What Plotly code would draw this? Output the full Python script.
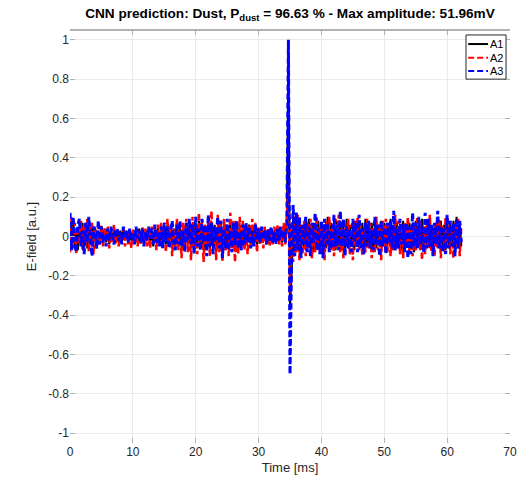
import numpy as np
import plotly.graph_objects as go

# Sample spacing of the recorded antenna signals [ms]
dt_ms = 0.25

# Antenna A1 (black, solid)
a1 = [
    .06, -.05, .08, -.06, .04, -.07, .05, -.03, .07, -.05,
    .04, -.06, .03, -.04, .06, -.03, .04, -.05, .02, -.03,
    .03, -.02, .04, -.03, .02, -.04, .03, -.02, .04, -.03,
    .02, -.03, .03, -.02, .04, -.02, .03, -.03, .02, -.02,
    .03, -.02, .02, -.03, .04, -.03, .02, -.04, .03, -.02,
    .04, -.03, .03, -.05, .04, -.02, .05, -.04, .03, -.04,
    .05, -.04, .06, -.03, .05, -.06, .04, -.05, .06, -.03,
    .05, -.06, .04, -.05, .07, -.04, .06, -.06, .05, -.04,
    .06, -.05, .08, -.04, .06, -.07, .05, -.05, .07, -.06,
    .07, -.05, .06, -.08, .05, -.06, .08, -.05, .06, -.07,
    .05, -.06, .07, -.04, .06, -.07, .04, -.05, .06, -.05,
    .04, -.05, .05, -.03, .06, -.04, .05, -.03, .04, -.05,
    .03, -.03, .04, -.02, .03, -.04, .03, -.02, .04, -.03,
    .03, -.02, .04, -.03, .02, -.03, .05, -.02, .07, .93,
    -.36, -.20, .10, -.08, .12, -.06, .09, -.07, .05, -.06,
    .07, -.06, .09, -.05, .06, -.08, .05, -.04, .08, -.06,
    .06, -.07, .05, -.06, .10, -.04, .07, -.06, .05, -.07,
    .08, -.05, .06, -.07, .05, -.06, .09, -.04, .06, -.05,
    .05, -.07, .08, -.05, .06, -.04, .07, -.06, .09, -.05,
    .06, -.05, .07, -.08, .05, -.06, .06, -.05, .08, -.04,
    .07, -.06, .05, -.04, .09, -.07, .06, -.05, .07, -.06,
    .05, -.07, .08, -.05, .06, -.04, .07, -.06, .05, -.08,
    .08, -.05, .06, -.07, .09, -.06, .05, -.04, .08, -.06,
    .06, -.07, .05, -.05, .07, -.06, .08, -.05, .06, -.07,
    .09, -.06, .07, -.05, .08, -.07, .10, -.06, .07, -.05,
]

# Antenna A2 (red, dashed)
a2 = [
    -.08, .10, -.06, .07, -.09, .05, -.04, .08, -.07, .06,
    -.05, .09, -.08, .04, .07, -.09, .05, -.06, .03, -.04,
    .06, -.05, .04, -.02, .05, -.06, .03, -.03, .06, -.04,
    .03, -.05, .02, -.03, .04, -.05, .02, -.04, .03, -.06,
    .04, -.02, .03, -.05, .02, -.04, .05, -.03, .04, -.05,
    .03, -.06, .05, -.02, .04, -.07, .06, -.03, .07, -.04,
    .05, -.08, .09, -.05, .06, -.10, .04, -.06, .09, -.07,
    .06, -.11, .07, -.04, .09, -.08, .05, -.12, .10, -.06,
    .07, -.09, .12, -.05, .08, -.13, .06, -.07, .09, -.10,
    .13, -.06, .05, -.12, .11, -.08, .07, -.13, .09, -.07,
    .06, -.10, .12, -.06, .08, -.13, .05, -.09, .10, -.06,
    .08, -.07, .05, -.09, .06, -.05, .09, -.04, .07, -.08,
    .05, -.04, .03, -.06, .05, -.03, .04, -.05, .03, -.04,
    .05, -.03, .06, -.04, .03, -.05, .07, -.04, .10, .26,
    -.29, .05, -.13, .10, -.08, .11, -.12, .06, -.09, .08,
    -.10, .07, -.06, .09, -.11, .05, -.08, .10, -.07, .04,
    -.09, .06, -.12, .08, -.05, .10, -.07, .05, -.10, .09,
    -.06, .11, -.08, .04, -.11, .07, -.05, .09, -.09, .06,
    -.12, .08, -.05, .10, -.07, .06, -.10, .04, -.08, .09,
    -.06, .07, -.11, .05, -.08, .10, -.07, .06, -.12, .08,
    -.05, .09, -.08, .06, -.10, .05, -.07, .11, -.06, .08,
    -.09, .06, -.11, .07, -.05, .10, -.08, .06, -.10, .07,
    -.07, .10, -.06, .08, -.12, .05, -.09, .07, -.06, .11,
    -.08, .05, -.10, .07, -.06, .09, -.11, .06, -.08, .10,
    -.06, .08, -.09, .05, -.11, .07, -.05, .09, -.10, .06,
]

# Antenna A3 (blue, dashed)
a3 = [
    .12, -.07, .10, -.04, -.08, .06, .09, -.05, .03, -.09,
    .07, -.03, .10, -.02, -.10, .05, .02, -.06, .08, -.04,
    .05, -.03, .01, -.05, .04, -.02, .05, .00, -.04, .03,
    .04, -.02, .02, -.04, .05, -.01, .03, -.03, .04, -.02,
    .02, -.04, .05, -.01, .03, -.03, .04, -.05, .02, -.02,
    .05, -.01, .04, -.04, .06, -.03, .02, -.05, .05, -.06,
    .07, -.03, .05, -.06, .02, .08, -.03, -.07, .06, -.04,
    .08, -.05, .03, -.08, .07, -.02, .09, -.04, .06, -.09,
    .10, -.05, .04, -.07, .09, -.03, .06, -.10, .11, -.05,
    .07, -.09, .05, -.02, .10, -.06, .08, -.11, .04, -.06,
    .09, -.07, .03, -.08, .07, -.04, .08, -.06, .02, -.07,
    .06, -.04, .07, -.03, .05, -.06, .02, -.05, .06, -.02,
    .04, -.03, .05, -.01, .03, -.04, .04, -.02, .05, -.03,
    .02, -.04, .04, -.02, .05, -.01, .03, -.03, .06, 1.00,
    -.70, -.12, .16, -.10, .12, -.07, .10, -.11, .06, -.04,
    .10, -.08, .05, -.10, .07, -.03, .12, -.07, .04, -.09,
    .08, -.11, .09, -.04, .06, -.08, .03, -.06, .11, -.05,
    .06, -.07, .13, -.05, .09, -.10, .05, -.06, .04, -.08,
    .09, -.03, .07, -.08, .11, -.06, .04, -.09, .07, -.05,
    .08, -.06, .03, -.07, .10, -.04, .06, -.10, .08, -.05,
    .05, -.09, .07, -.03, .08, -.06, .13, -.07, .04, -.06,
    .09, -.04, .06, -.08, .07, -.11, .05, -.09, .12, -.05,
    .07, -.06, .10, -.04, .06, -.08, .12, -.06, .09, -.05,
    .06, -.10, .07, -.04, .13, -.06, .05, -.08, .04, -.09,
    .11, -.06, .08, -.05, .07, -.10, .09, -.06, .08, -.03,
]

x_ticks = [0, 10, 20, 30, 40, 50, 60, 70]
y_ticks = [-1, -0.8, -0.6, -0.4, -0.2, 0, 0.2, 0.4, 0.6, 0.8, 1]
y_tick_text = ["-1", "-0.8", "-0.6", "-0.4", "-0.2", "0", "0.2", "0.4", "0.6", "0.8", "1"]

# name, samples, colour, dash pattern, stroke width
series = [
    ("A1", a1, "black", "solid", 2.0),
    ("A2", a2, "red", "6px,3px", 2.5),
    ("A3", a3, "blue", "6px,3px", 3.0),
]

FONT = "Liberation Sans, Arial, Helvetica, sans-serif"
TEXT = "#262626"

fig = go.Figure()
for name, vals, color, dash, width in series:
    t = np.arange(len(vals)) * dt_ms
    fig.add_trace(go.Scatter(
        x=t, y=vals, mode="lines", name=name, showlegend=False,
        line=dict(color=color, width=width, dash=dash),
    ))

axis_common = dict(
    showgrid=True, gridcolor="#ebebeb", gridwidth=1,
    zeroline=False, showline=False, automargin=False,
    ticks="inside", ticklen=5, tickcolor="#b3b3b3", tickwidth=1,
    mirror="ticks",
    tickfont=dict(family=FONT, size=12, color=TEXT),
)

# Boxed legend in the upper right corner of the axes
shapes = [
    dict(type="line", xref="paper", yref="paper",
         x0=0, x1=1, y0=1, y1=1,
         line=dict(color="#9a9a9a", width=1.5)),
    dict(type="rect", xref="paper", yref="paper",
         x0=0.900, x1=0.991, y0=0.881, y1=0.988,
         fillcolor="white", line=dict(color="#262626", width=1), layer="above"),
]
annotations = []
row_y = [0.966, 0.933, 0.901]
for (name, _, color, dash, _w), yy in zip(series, row_y):
    shapes.append(dict(
        type="line", xref="paper", yref="paper",
        x0=0.905, x1=0.950, y0=yy, y1=yy, layer="above",
        line=dict(color=color, width=2, dash=dash),
    ))
    annotations.append(dict(
        text=name, xref="paper", yref="paper", x=0.951, y=yy,
        xanchor="left", yanchor="middle", showarrow=False,
        font=dict(family=FONT, size=11, color="black"),
    ))

fig.update_layout(
    width=521, height=477,
    margin=dict(l=70, r=11, t=30, b=34),
    paper_bgcolor="white", plot_bgcolor="white",
    font=dict(family=FONT, color=TEXT),
    showlegend=False,
    title=dict(
        text="<b>CNN prediction: Dust, P<sub>dust</sub> = 96.63 % - Max amplitude: 51.96mV</b>",
        x=0.5, xref="paper", xanchor="center",
        y=1 - 13 / 477, yref="container", yanchor="middle",
        font=dict(family=FONT, size=13.6, color="black"),
    ),
    xaxis=dict(
        range=[0, 70], tickvals=x_ticks,
        title=dict(text="Time [ms]", font=dict(family=FONT, size=13, color=TEXT), standoff=4),
        **axis_common,
    ),
    yaxis=dict(
        range=[-1.05, 1.05], tickvals=y_ticks, ticktext=y_tick_text,
        title=dict(text="E-field [a.u.]", font=dict(family=FONT, size=13, color=TEXT), standoff=8),
        **axis_common,
    ),
    shapes=shapes,
    annotations=annotations,
)

fig.write_html("out.html")
